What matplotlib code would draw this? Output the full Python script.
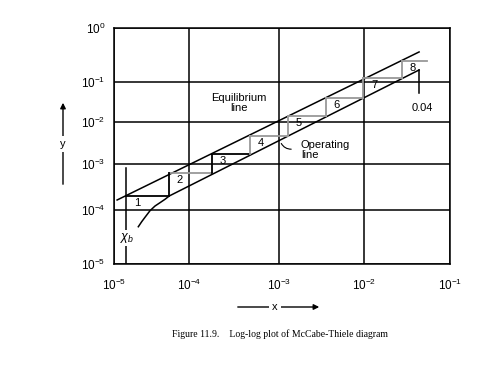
import numpy as np
import matplotlib
matplotlib.use("Agg")
import matplotlib.pyplot as plt

plt.rcParams['font.family'] = ['Liberation Sans', 'DejaVu Sans']
plt.rcParams['mathtext.fontset'] = 'custom'
plt.rcParams['mathtext.rm'] = 'Liberation Sans'
plt.rcParams['mathtext.it'] = 'Liberation Sans:italic'
plt.rcParams['mathtext.bf'] = 'Liberation Sans:bold'

# === data ===
decades_x = [1e-5, 1e-4, 1e-3, 1e-2, 1e-1]
decades_y = [1e-5, 1e-4, 1e-3, 1e-2, 1e-1, 1e0]
tick_labels_x = [r'$10^{-5}$', r'$10^{-4}$', r'$10^{-3}$', r'$10^{-2}$', r'$10^{-1}$']
tick_labels_y = [r'$10^{-5}$', r'$10^{-4}$', r'$10^{-3}$', r'$10^{-2}$', r'$10^{-1}$', r'$10^{0}$']

# equilibrium line (upper)
eq_x = [1.10e-5, 4.37e-2]
eq_y = [1.65e-4, 0.36]

# operating line (lower, curved near the bottom)
op_x = [2.11e-5, 2.34e-5, 2.59e-5, 3.02e-5, 3.52e-5, 4.10e-5, 4.79e-5, 5.46e-5, 4.37e-2]
op_y = [4.9e-5, 6.07e-5, 7.33e-5, 9.7e-5, 1.22e-4, 1.44e-4, 1.71e-4, 2.02e-4, 0.167]
op_end_y = 0.0531

# stage stepping
step_x = [1.445e-5, 5.41e-5, 1.80e-4, 4.76e-4, 1.276e-3, 3.57e-3, 9.73e-3, 2.77e-2, 5.41e-2]
step_y = [2.02e-4, 6.37e-4, 1.73e-3, 4.64e-3, 1.41e-2, 3.98e-2, 0.1186, 0.245]
stage_labels = ['1', '2', '3', '4', '5', '6', '7', '8']

x_b = 1.445e-5
x_b_top = 8.18e-4

# styles
horiz_colors = ['black', '#999999', 'black', '#999999', '#999999', '#999999', '#999999', '#999999']
vert_colors = ['black', 'black', '#999999', '#999999', '#999999', '#999999', '#999999']

# === uneven decade spacing of the hand drawn axes ===
grid_pos_x = [0, 75, 165, 250, 336]
grid_pos_y = [0, 54, 100, 142, 182, 236]


def piecewise(t, src, dst):
    t = np.asarray(t, dtype=float)
    out = np.interp(t, src, dst)
    lo = (dst[1] - dst[0]) / (src[1] - src[0])
    hi = (dst[-1] - dst[-2]) / (src[-1] - src[-2])
    out = np.where(t < src[0], dst[0] + (t - src[0]) * lo, out)
    out = np.where(t > src[-1], dst[-1] + (t - src[-1]) * hi, out)
    return out


def make_scale(decs, pos):
    logs = list(np.log10(decs))
    fwd = lambda v: piecewise(np.log10(np.clip(np.asarray(v, dtype=float), 1e-300, None)), logs, pos)
    inv = lambda u: 10 ** piecewise(u, pos, logs)
    return fwd, inv


fig = plt.figure(figsize=(4.97, 3.66), dpi=100)
ax = fig.add_axes([114 / 497, 1 - 264 / 366, 336 / 497, 236 / 366])

ax.set_xscale('function', functions=make_scale(decades_x, grid_pos_x))
ax.set_yscale('function', functions=make_scale(decades_y, grid_pos_y))
ax.set_xlim(decades_x[0], decades_x[-1])
ax.set_ylim(decades_y[0], decades_y[-1])
ax.set_xticks(decades_x)
ax.set_xticklabels(tick_labels_x, fontsize=8.5)
ax.set_yticks(decades_y)
ax.set_yticklabels(tick_labels_y, fontsize=8.5)
ax.minorticks_off()
ax.tick_params(length=0)
ax.tick_params(axis='x', pad=10)
ax.tick_params(axis='y', pad=6)
ax.grid(True, color='black', linewidth=1.1)
for s in ax.spines.values():
    s.set_linewidth(1.1)

# lines
ax.plot(eq_x, eq_y, color='black', lw=1.1)
ax.plot(op_x, op_y, color='black', lw=1.1)
ax.plot([op_x[-1], op_x[-1]], [op_y[-1], op_end_y], color='black', lw=1.1)
ax.plot([x_b, x_b], [x_b_top, decades_y[0]], color='black', lw=1.1)

# steps
for i in range(len(step_y)):
    ax.plot([step_x[i], step_x[i + 1]], [step_y[i], step_y[i]], color=horiz_colors[i], lw=1.3)
for i in range(len(step_y) - 1):
    ax.plot([step_x[i + 1], step_x[i + 1]], [step_y[i], step_y[i + 1]], color=vert_colors[i], lw=1.3)

for i, lab in enumerate(stage_labels):
    ax.annotate(lab, (step_x[i], step_y[i]), xytext=(11, -7), textcoords='offset pixels',
                ha='center', va='center', fontsize=8)

# annotations
ax.text(3.6e-4, 2.99e-2, 'Equilibrium\nline', ha='center', va='center', fontsize=8, linespacing=1.0)
ax.text(1.81e-3, 2.15e-3, 'Operating\nline', ha='left', va='center', fontsize=8, linespacing=1.0)
ax.annotate('', xy=(1.03e-3, 3.53e-3), xytext=(1.5e-3, 2.28e-3),
            arrowprops=dict(arrowstyle='-', color='black', lw=0.8, connectionstyle='arc3,rad=-0.4'))
ax.text(4.72e-2, 2.24e-2, '0.04', ha='center', va='center', fontsize=8)
ax.text(1.49e-5, 3.03e-5, r'$\chi_b$', ha='center', va='center', fontsize=9,
        bbox=dict(facecolor='white', edgecolor='none', pad=0.5))

# axis arrows
fig.patches.append(matplotlib.patches.FancyArrowPatch(
    (63 / 497, 1 - 187 / 366), (63 / 497, 1 - 100 / 366), transform=fig.transFigure,
    arrowstyle='-|>', mutation_scale=8, color='black', lw=1.0))
fig.text(63 / 497, 1 - 144 / 366, 'y', ha='center', va='center', fontsize=8,
         bbox=dict(facecolor='white', edgecolor='none', pad=2.5))
fig.patches.append(matplotlib.patches.FancyArrowPatch(
    (235 / 497, 1 - 307 / 366), (322 / 497, 1 - 307 / 366), transform=fig.transFigure,
    arrowstyle='-|>', mutation_scale=8, color='black', lw=1.0))
fig.text(275 / 497, 1 - 307 / 366, 'x', ha='center', va='center', fontsize=8,
         bbox=dict(facecolor='white', edgecolor='none', pad=2.5))

fig.text(280 / 497, 1 - 334 / 366, 'Figure 11.9.    Log-log plot of McCabe-Thiele diagram',
         ha='center', va='center', fontsize=7, family='Liberation Serif')

fig.savefig('out.png', dpi=100)
